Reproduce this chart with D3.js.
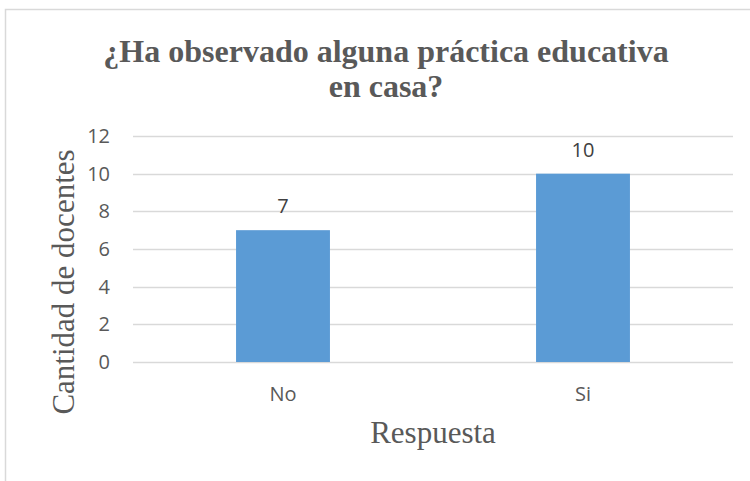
<!DOCTYPE html>
<html>
<head>
<meta charset="utf-8">
<script src="https://cdn.jsdelivr.net/npm/d3@7"></script>
<style>
  html, body { margin: 0; padding: 0; background: #fff; }
  svg { display: block; }
</style>
</head>
<body>
<svg id="chart" width="750" height="481"></svg>
<script>
const categories = ["No", "Si"];
const values = [7, 10];
const yTicks = [0, 2, 4, 6, 8, 10, 12];
const titleLines = ["¿Ha observado alguna práctica educativa", "en casa?"];
const xAxisTitle = "Respuesta";
const yAxisTitle = "Cantidad de docentes";

const svg = d3.select("#chart");
const textColor = "#595959";
const gridColor = "#D9D9D9";
const barColor = "#5B9BD5";
const sans = "'Open Sans', 'Liberation Sans', sans-serif";
const serif = "'Liberation Serif', 'Times New Roman', serif";

// chart border (cropped at right/bottom)
svg.append("rect")
  .attr("x", 5.5).attr("y", 9.5)
  .attr("width", 900).attr("height", 700)
  .attr("fill", "none").attr("stroke", gridColor).attr("stroke-width", 1.5);

const plot = { left: 133, right: 733, top: 136, bottom: 362 };

const x = d3.scaleBand().domain(categories).range([plot.left, plot.right]).paddingInner(0.687).paddingOuter(0.3435);
const y = d3.scaleLinear().domain([0, 12]).range([plot.bottom, plot.top]);

// gridlines
svg.append("g").selectAll("line").data(yTicks).join("line")
  .attr("x1", plot.left).attr("x2", plot.right)
  .attr("y1", d => Math.round(y(d)) + 0.5).attr("y2", d => Math.round(y(d)) + 0.5)
  .attr("stroke", gridColor).attr("stroke-width", 1.3);

// y axis labels
const yAxis = d3.axisLeft(y).tickValues(yTicks).tickSize(0).tickPadding(23);
const gy = svg.append("g").attr("transform", `translate(${plot.left},0)`).call(yAxis);
gy.select(".domain").remove();
gy.selectAll("text").attr("fill", textColor).style("font-family", sans).style("font-size", "20px");

// bars
svg.append("g").selectAll("rect").data(values).join("rect")
  .attr("x", (d, i) => x(categories[i]))
  .attr("width", x.bandwidth())
  .attr("y", d => y(d))
  .attr("height", d => y(0) - y(d))
  .attr("fill", barColor);

// data labels
svg.append("g").selectAll("text").data(values).join("text")
  .attr("x", (d, i) => x(categories[i]) + x.bandwidth() / 2)
  .attr("y", d => y(d) - 17)
  .attr("text-anchor", "middle")
  .attr("fill", "#404040")
  .style("font-family", sans).style("font-size", "20px")
  .text(d => d);

// x axis labels
const xAxis = d3.axisBottom(x).tickSize(0).tickPadding(0);
const gx = svg.append("g").attr("transform", `translate(0,${plot.bottom})`).call(xAxis);
gx.select(".domain").remove();
gx.selectAll("text").attr("fill", textColor).attr("dy", null).attr("y", 39)
  .style("font-family", sans).style("font-size", "20px");

// title
svg.append("g").selectAll("text").data(titleLines).join("text")
  .attr("x", 386).attr("y", (d, i) => 62 + i * 35)
  .attr("text-anchor", "middle")
  .attr("fill", textColor)
  .style("font-family", serif).style("font-size", "32px").style("font-weight", "bold")
  .text(d => d);

// axis titles
svg.append("text")
  .attr("x", (plot.left + plot.right) / 2).attr("y", 443)
  .attr("text-anchor", "middle").attr("fill", textColor)
  .style("font-family", serif).style("font-size", "31px")
  .text(xAxisTitle);

svg.append("text")
  .attr("transform", "translate(74,282) rotate(-90)")
  .attr("text-anchor", "middle").attr("fill", textColor)
  .style("font-family", serif).style("font-size", "31px")
  .text(yAxisTitle);
</script>
</body>
</html>
